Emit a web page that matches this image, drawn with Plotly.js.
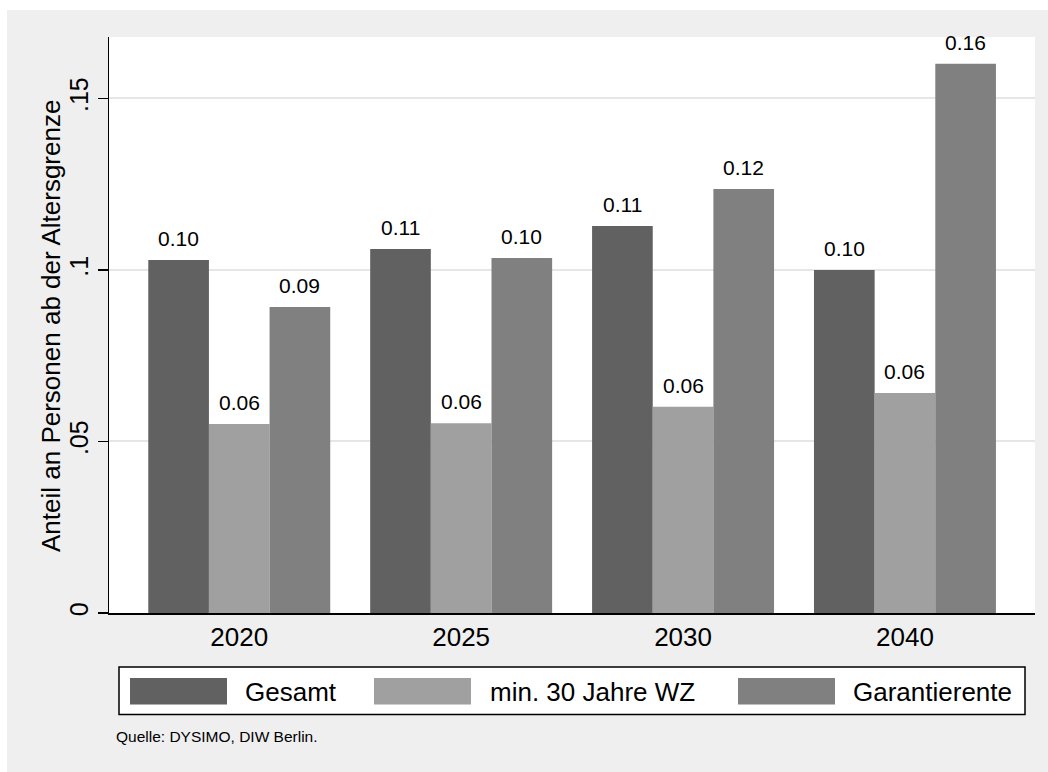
<!DOCTYPE html>
<html>
<head>
<meta charset="utf-8">
<script src="https://cdn.plot.ly/plotly-3.0.1.min.js"></script>
<style>
  html, body { margin: 0; padding: 0; background: #ffffff; width: 1048px; height: 772px; overflow: hidden; }
  #chart { position: absolute; left: 7px; top: 10px; width: 1041px; height: 762px; }
</style>
</head>
<body>
<div id="chart"></div>
<script>
// ---- data ----
const years = ['2020', '2025', '2030', '2040'];
const seriesNames = ['Gesamt', 'min. 30 Jahre WZ', 'Garantierente'];
const gesamt = [0.1029, 0.1061, 0.1128, 0.1000];
const min30 = [0.0551, 0.0553, 0.0601, 0.0641];
const garantie = [0.0892, 0.1035, 0.1236, 0.1601];
const seriesValues = [gesamt, min30, garantie];
const seriesColors = ['#616161', '#A0A0A0', '#808080'];
const yTickVals = [0, 0.05, 0.1, 0.15];
const yTickText = ['0', '.05', '.1', '.15'];
const yTitle = 'Anteil an Personen ab der Altersgrenze';
const sourceNote = 'Quelle: DYSIMO, DIW Berlin.';

const FONT = 'Liberation Sans, Arial, Helvetica, sans-serif';
const BARGAP = 0.18;

// plot-area geometry (page px) used to place legend/notes in paper coords
const PX0 = 109, PX1 = 1035, PY0 = 37, PY1 = 613;
const px = v => (v - PX0) / (PX1 - PX0);
const py = v => (PY1 - v) / (PY1 - PY0);

const traces = seriesNames.map((name, i) => ({
  type: 'bar',
  name: name,
  x: years,
  y: seriesValues[i],
  marker: { color: seriesColors[i], line: { width: 0 } },
  hoverinfo: 'skip'
}));

const annotations = [];
// value labels above each bar (placed via the axes)
const nS = seriesNames.length;
const barW = (1 - BARGAP) / nS;
seriesValues.forEach((vals, i) => {
  vals.forEach((v, k) => {
    annotations.push({ xref: 'x', yref: 'y',
      x: k + (i - (nS - 1) / 2) * barW, y: v,
      xanchor: 'center', yanchor: 'bottom', yshift: 8,
      text: v.toFixed(2), showarrow: false,
      font: { family: FONT, size: 21, color: '#000000' } });
  });
});

// manual legend (wide swatches like the original)
const legendSwatchX = [130, 374, 738];
const legendTextX = [243, 488, 851];
const shapes = [
  { type: 'rect', xref: 'paper', yref: 'paper',
    x0: px(119), x1: px(1025), y0: py(667), y1: py(714.5),
    fillcolor: '#ffffff', line: { color: '#000000', width: 1.5 }, layer: 'above' }
];
seriesNames.forEach((name, i) => {
  shapes.push({ type: 'rect', xref: 'paper', yref: 'paper',
    x0: px(legendSwatchX[i]), x1: px(legendSwatchX[i] + 97),
    y0: py(678), y1: py(704.5),
    fillcolor: seriesColors[i], line: { width: 0 }, layer: 'above' });
  annotations.push({ xref: 'paper', yref: 'paper',
    x: px(legendTextX[i]), y: py(692), xanchor: 'left', yanchor: 'middle',
    text: name, showarrow: false,
    font: { family: FONT, size: 26, color: '#000000' } });
});
annotations.push({ xref: 'paper', yref: 'paper',
  x: px(114), y: py(736.5), xanchor: 'left', yanchor: 'middle',
  text: sourceNote, showarrow: false,
  font: { family: FONT, size: 15.5, color: '#000000' } });
annotations.push({ xref: 'paper', yref: 'paper',
  x: px(51), y: py(326), xanchor: 'center', yanchor: 'middle',
  text: yTitle, textangle: -90, showarrow: false,
  font: { family: FONT, size: 26, color: '#000000' } });

const layout = {
  width: 1041, height: 762,
  margin: { l: 102, r: 13, t: 27, b: 159, pad: 0 },
  paper_bgcolor: '#EFEFEF',
  plot_bgcolor: '#FFFFFF',
  showlegend: false,
  barmode: 'group',
  bargap: BARGAP,
  bargroupgap: 0,
  font: { family: FONT, color: '#000000' },
  xaxis: {
    type: 'category',
    range: [-0.587, 3.586],
    showline: true, linecolor: '#000000', linewidth: 1.5,
    ticks: '', showgrid: false, zeroline: false,
    tickfont: { family: FONT, size: 26, color: '#000000' },
    fixedrange: true
  },
  yaxis: {
    range: [0, 0.1679],
    tickvals: yTickVals, ticktext: yTickText,
    tickangle: -90,
    ticks: 'outside', ticklen: 10, tickwidth: 1.5, tickcolor: '#000000',
    showline: true, linecolor: '#000000', linewidth: 1.5,
    showgrid: true, gridcolor: '#E6E6E6', gridwidth: 2,
    zeroline: false,
    tickfont: { family: FONT, size: 25, color: '#000000' },
    fixedrange: true
  },
  shapes: shapes,
  annotations: annotations
};

Plotly.newPlot('chart', traces, layout, { displayModeBar: false, staticPlot: true });
</script>
</body>
</html>
